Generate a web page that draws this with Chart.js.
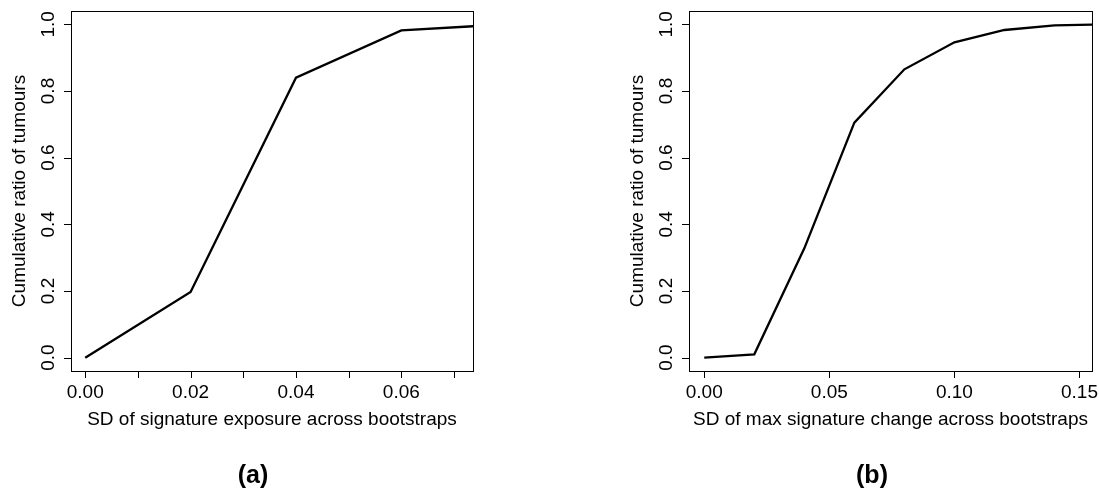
<!DOCTYPE html>
<html lang="en">
<head>
<meta charset="UTF-8">
<title>Cumulative ratio of tumours</title>
<script src="https://cdn.jsdelivr.net/npm/chart.js"></script>
<style>
    body, html { margin: 0; padding: 0; background: #fff; }
    #wrap { position: relative; width: 1099px; height: 489px; }
    canvas { position: absolute; top: 0; }
    #chartA { left: 0; }
    #chartB { left: 550px; }
</style>
</head>
<body>
<div id="wrap">
    <canvas id="chartA" width="550" height="489"></canvas>
    <canvas id="chartB" width="549" height="489"></canvas>
</div>
<script>
// panel (a): SD of signature exposure
const exposureSD = [0, 0.02, 0.04, 0.06, 0.08];
const exposureRatio = [0, 0.197, 0.840, 0.982, 1.0];
const exposureTicks = [0, 0.01, 0.02, 0.03, 0.04, 0.05, 0.06, 0.07];
const exposureLabels = ['0.00', '', '0.02', '', '0.04', '', '0.06', ''];

// panel (b): SD of max signature change
const changeSD = [0, 0.02, 0.04, 0.06, 0.08, 0.10, 0.12, 0.14, 0.16];
const changeRatio = [0, 0.010, 0.328, 0.705, 0.865, 0.946, 0.983, 0.997, 1.0];
const changeTicks = [0, 0.05, 0.10, 0.15];
const changeLabels = ['0.00', '0.05', '0.10', '0.15'];

// shared y axis
const yTicks = [0, 0.2, 0.4, 0.6, 0.8, 1.0];
const yLabels = ['0.0', '0.2', '0.4', '0.6', '0.8', '1.0'];

const FONT = '"Liberation Sans", Arial, Helvetica, sans-serif';

// R-like box, ticks and labels drawn from the chart's scales
const rAxes = {
    id: 'rAxes',
    afterDraw(chart, args, o) {
        const ctx = chart.ctx, a = chart.chartArea;
        const xs = chart.scales.x, ys = chart.scales.y;
        const L = Math.round(a.left), T = Math.round(a.top);
        const R = Math.round(a.right), B = Math.round(a.bottom);
        ctx.save();
        ctx.strokeStyle = '#000';
        ctx.lineWidth = 1;
        ctx.strokeRect(L + 0.5, T + 0.5, R - L, B - T);

        ctx.beginPath();
        o.xTicks.forEach(v => {
            const px = Math.round(xs.getPixelForValue(v)) + 0.5;
            ctx.moveTo(px, B);
            ctx.lineTo(px, B + 7);
        });
        yTicks.forEach(v => {
            const py = Math.round(ys.getPixelForValue(v)) + 0.5;
            ctx.moveTo(L, py);
            ctx.lineTo(L - 7, py);
        });
        ctx.stroke();

        ctx.fillStyle = '#000';
        ctx.font = '19px ' + FONT;
        ctx.textAlign = 'center';
        ctx.textBaseline = 'alphabetic';
        o.xTicks.forEach((v, i) => {
            if (o.xLabels[i]) ctx.fillText(o.xLabels[i], xs.getPixelForValue(v), B + 27);
        });
        ctx.fillText(o.xTitle, (L + R) / 2, B + 54);

        yTicks.forEach((v, i) => {
            ctx.save();
            ctx.translate(L - 17, ys.getPixelForValue(v));
            ctx.rotate(-Math.PI / 2);
            ctx.fillText(yLabels[i], 0, 0);
            ctx.restore();
        });
        ctx.save();
        ctx.translate(L - 46, (T + B) / 2);
        ctx.rotate(-Math.PI / 2);
        ctx.fillText(o.yTitle, 0, 0);
        ctx.restore();

        ctx.font = 'bold 25px ' + FONT;
        ctx.fillText(o.tag, o.tagX, 483);
        ctx.restore();
    }
};

function makeChart(id, xs, ys, xMin, xMax, pad, axes) {
    const data = xs.map((x, i) => ({ x: x, y: ys[i] }));
    return new Chart(document.getElementById(id), {
        type: 'line',
        data: { datasets: [{
            data: data,
            borderColor: '#000',
            borderWidth: 2.3,
            pointRadius: 0,
            tension: 0,
            clip: 0
        }]},
        options: {
            responsive: false,
            animation: false,
            layout: { padding: pad },
            scales: {
                x: { type: 'linear', min: xMin, max: xMax, display: false },
                y: { type: 'linear', min: -0.04, max: 1.04, display: false }
            },
            plugins: {
                legend: { display: false },
                tooltip: { enabled: false },
                rAxes: axes
            }
        },
        plugins: [rAxes]
    });
}

makeChart('chartA', exposureSD, exposureRatio, -0.0027, 0.0736,
    { left: 71, right: 77, top: 11, bottom: 118 },
    { xTicks: exposureTicks, xLabels: exposureLabels,
      xTitle: 'SD of signature exposure across bootstraps',
      yTitle: 'Cumulative ratio of tumours', tag: '(a)', tagX: 253 });

makeChart('chartB', changeSD, changeRatio, -0.0061, 0.155,
    { left: 139, right: 7, top: 11, bottom: 118 },
    { xTicks: changeTicks, xLabels: changeLabels,
      xTitle: 'SD of max signature change across bootstraps',
      yTitle: 'Cumulative ratio of tumours', tag: '(b)', tagX: 322 });
</script>
</body>
</html>
